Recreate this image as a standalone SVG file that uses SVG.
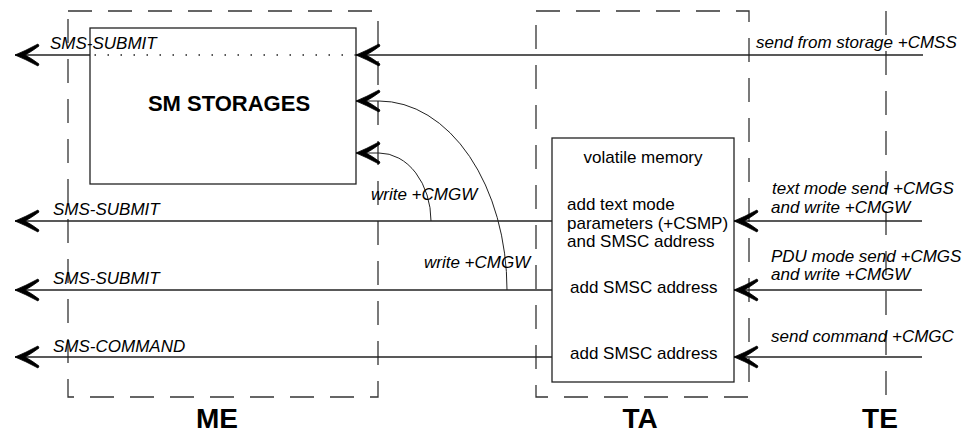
<svg xmlns="http://www.w3.org/2000/svg" width="967" height="433" viewBox="0 0 967 433">
<style>
.bg{fill:#fff}
.dash{fill:none;stroke:#333;stroke-width:1.3;stroke-dasharray:24 16}
.box{fill:#fff;stroke:#222;stroke-width:1.3}
.ln{fill:none;stroke:#222;stroke-width:1.3}
.arr{marker-end:url(#ah)}
.dot{fill:none;stroke:#222;stroke-width:1.5;stroke-dasharray:1.5 11.5}
.curve{fill:none;stroke:#222;stroke-width:1}
text{font-family:"Liberation Sans",Arial,sans-serif;fill:#000}
.lbl{font-size:17px;font-style:italic}
.body{font-size:17px}
.title{font-size:22px;font-weight:bold}
.big{font-size:28px;font-weight:bold}
</style>
<defs>
<marker id="ah" markerUnits="userSpaceOnUse" markerWidth="30" markerHeight="30" refX="0" refY="0" orient="auto" overflow="visible">
<path d="M0,0 Q-10,-4 -23,-11 L-24,-9 Q-16,-3 -10,0 Q-16,3 -24,9 L-23,11 Q-10,4 0,0 Z" fill="#000" stroke="#000" stroke-width="0.8"/>
</marker>
</defs>
<rect class="bg" width="967" height="433"/>
<g id="ME">
<path class="dash" d="M68,11 H378 V397 H68 Z"/>
<text class="big" x="217" y="428" text-anchor="middle">ME</text>
</g>
<g id="TA">
<path class="dash" d="M536,11 H749 V397 H536 Z"/>
<text class="big" x="640" y="428" text-anchor="middle">TA</text>
</g>
<g id="TE">
<path class="dash" d="M886,11 V397"/>
<text class="big" x="880" y="428" text-anchor="middle">TE</text>
</g>
<g id="sm-storages">
<rect class="box" x="90" y="28" width="266" height="156"/>
<text class="title" x="229" y="111" text-anchor="middle">SM STORAGES</text>
</g>
<g id="volatile-memory">
<rect class="box" x="552" y="138" width="182" height="244"/>
<text class="body" x="643" y="163" text-anchor="middle">volatile memory</text>
<text class="body" x="567" y="210">add text mode</text>
<text class="body" x="567" y="229">parameters (+CSMP)</text>
<text class="body" x="567" y="247">and SMSC address</text>
<text class="body" x="570" y="293">add SMSC address</text>
<text class="body" x="570" y="359">add SMSC address</text>
</g>
<g id="connectors">
<path class="ln arr" d="M923,55 H356"/>
<path class="dot" d="M356,55 H90"/>
<path class="ln arr" d="M90,55 H15"/>
<path class="ln arr" d="M552,221 H15"/>
<path class="ln arr" d="M552,290 H15"/>
<path class="ln arr" d="M552,357 H15"/>
<path class="ln arr" d="M922,221 H734"/>
<path class="ln arr" d="M922,290 H734"/>
<path class="ln arr" d="M922,357 H734"/>
<path class="curve arr" d="M507,290 A128,189 0 0 0 379,101 H356"/>
<path class="curve arr" d="M431,221 A52,68 0 0 0 379,153 H356"/>
</g>
<g id="labels">
<text class="lbl" x="50" y="49">SMS-SUBMIT</text>
<text class="lbl" x="53" y="215">SMS-SUBMIT</text>
<text class="lbl" x="53" y="284">SMS-SUBMIT</text>
<text class="lbl" x="53" y="352">SMS-COMMAND</text>
<text class="lbl" x="756" y="48">send from storage +CMSS</text>
<text class="lbl" x="772" y="194">text mode send +CMGS</text>
<text class="lbl" x="771" y="213">and write +CMGW</text>
<text class="lbl" x="771" y="262">PDU mode send +CMGS</text>
<text class="lbl" x="771" y="280">and write +CMGW</text>
<text class="lbl" x="771" y="342">send command +CMGC</text>
<text class="lbl" x="371" y="200">write +CMGW</text>
<text class="lbl" x="424" y="268">write +CMGW</text>
</g>
</svg>
